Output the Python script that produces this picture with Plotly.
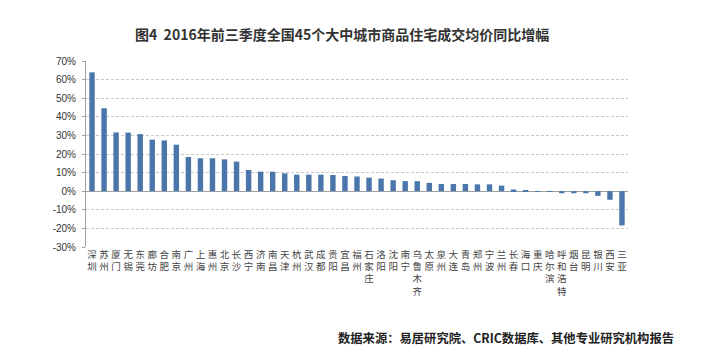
import plotly.graph_objects as go

cities = ["深圳", "苏州", "厦门", "无锡", "东莞", "廊坊", "合肥", "南京", "广州", "上海",
          "惠州", "北京", "长沙", "西宁", "济南", "南昌", "天津", "杭州", "武汉", "成都",
          "贵阳", "宜昌", "福州", "石家庄", "洛阳", "沈阳", "南宁", "乌鲁木齐", "太原", "泉州",
          "大连", "青岛", "郑州", "宁波", "兰州", "长春", "海口", "重庆", "哈尔滨", "呼和浩特",
          "烟台", "昆明", "银川", "西安", "三亚"]
growth = [63.9, 44.6, 31.6, 31.5, 30.7, 27.7, 27.3, 25.0, 18.4, 17.7,
          17.7, 17.1, 15.9, 11.4, 10.5, 10.5, 9.6, 8.9, 8.9, 8.9,
          8.7, 8.2, 7.9, 7.3, 6.8, 5.9, 5.4, 5.4, 4.5, 3.9,
          3.9, 3.9, 3.7, 3.7, 3.0, 0.9, 0.4, 0.1, -0.1, -1.1,
          -1.1, -1.1, -2.5, -4.6, -18.4]
y_ticks = [70, 60, 50, 40, 30, 20, 10, 0, -10, -20, -30]
y_tick_text = [f"{v}%" for v in y_ticks]

title_text = "图4\u00a0\u00a02016年前三季度全国45个大中城市商品住宅成交均价同比增幅"
source_text = "数据来源：易居研究院、CRIC数据库、其他专业研究机构报告"

tick_labels = ["<br>".join(list(c)) for c in cities]

L, R, T, B = 78, 85, 53, 117
W, H = 705, 356
plot_w = W - L - R
plot_h = H - T - B

fig = go.Figure()
fig.add_trace(go.Bar(
    x=cities, y=growth,
    marker=dict(color="#4a76ab", line=dict(width=0)),
))

fig.update_layout(
    width=W, height=H,
    margin=dict(l=L, r=R, t=T, b=B),
    paper_bgcolor="white", plot_bgcolor="white",
    bargap=0.55,
    showlegend=False,
    font=dict(family="Noto Sans CJK SC, sans-serif", color="#333"),
    annotations=[
        dict(text=title_text, xref="paper", yref="paper",
             x=(334 - L) / plot_w, y=(H - B - 26) / plot_h,
             xanchor="center", yanchor="middle", showarrow=False,
             font=dict(size=14, color="#333", family="Noto Sans CJK SC, sans-serif", weight="bold")),
        dict(text=source_text, xref="paper", yref="paper",
             x=(668 - L) / plot_w, y=(H - B - 330) / plot_h,
             xanchor="right", yanchor="middle", showarrow=False,
             font=dict(size=12.3, color="#222", family="Noto Sans CJK SC, sans-serif", weight="bold")),
    ],
)

fig.update_xaxes(
    tickmode="array", tickvals=cities, ticktext=tick_labels,
    tickfont=dict(size=9.5, color="#444", family="Liberation Sans, Noto Sans CJK SC, sans-serif"),
    showline=False, showgrid=False, ticks="", range=[-0.5, 44.5],
)
fig.update_yaxes(
    range=[-30, 70], tickvals=y_ticks, ticktext=y_tick_text,
    tickfont=dict(size=10, color="#333", family="Liberation Sans, Arial, sans-serif"),
    showgrid=True, gridcolor="#c8c8c8", griddash="3px,2px", gridwidth=1,
    zeroline=True, zerolinecolor="#a0a0a0", zerolinewidth=1,
    showline=True, linecolor="#a0a0a0", linewidth=1,
    ticks="outside", ticklen=3, tickcolor="#a0a0a0",
    ticklabelstandoff=4,
)

fig.write_html("out.html")
